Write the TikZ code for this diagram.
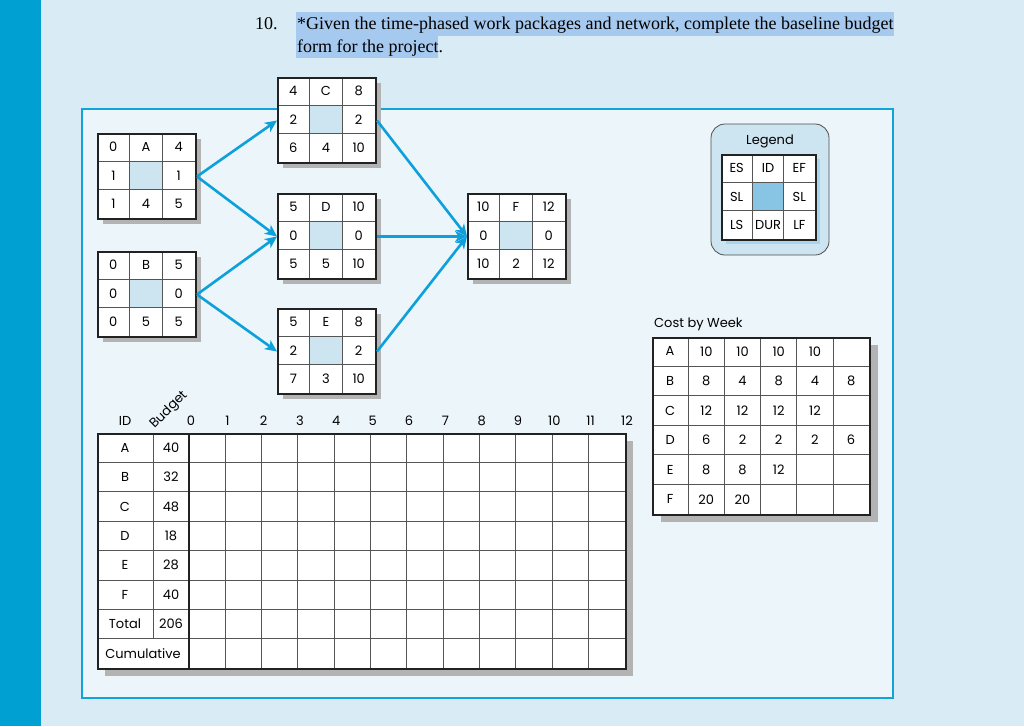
\documentclass[tikz,border=0pt]{standalone}
\usepackage{fontspec}
\setmainfont{Liberation Serif}
\newfontfamily\labfont{Poppins}
\usetikzlibrary{arrows.meta}
\definecolor{barblue}{HTML}{00A0D2}
\definecolor{bgblue}{HTML}{D9EBF4}
\definecolor{panelfill}{HTML}{EBF5FA}
\definecolor{panelline}{HTML}{12A3DA}
\definecolor{arrowblue}{HTML}{0DA0DB}
\definecolor{cellblue}{HTML}{CDE5F1}
\definecolor{legendblue}{HTML}{88C5E4}
\definecolor{legendshadow}{HTML}{A9D4EC}
\definecolor{hilite}{HTML}{A6C9EF}
\definecolor{shadowgray}{HTML}{B3B3B3}
\definecolor{gridgray}{HTML}{555555}
\definecolor{edgedark}{HTML}{222222}
\tikzset{
  lab/.style={font=\labfont\fontsize{13}{15}\selectfont, inner sep=0pt, text=black},
  conn/.style={draw=arrowblue, line width=2.6pt, -{Stealth[length=12pt,width=11pt,inset=3.5pt]}},
  outerbox/.style={draw=edgedark, line width=2pt, inner sep=0pt, anchor=north west},
  innerline/.style={draw=gridgray, line width=1pt},
  titletext/.style={font=\fontsize{18}{21}\selectfont, inner sep=0pt, text=black}
}
\newcommand{\actbox}[9]{%
  \begin{scope}[shift={(#2)}]
    \fill[shadowgray] (6,6) rectangle (104,91);
    \fill[white] (0,0) rectangle (98,85);
    \fill[cellblue] (32.67,28.33) rectangle (65.33,56.67);
    \draw[innerline] (32.67,0) -- (32.67,85) (65.33,0) -- (65.33,85)
      (0,28.33) -- (98,28.33) (0,56.67) -- (98,56.67);
    \node[lab] (#1-es) at (16.33,14.17) {#3};
    \node[lab] (#1-id) at (49,14.17) {#4};
    \node[lab] (#1-ef) at (81.67,14.17) {#5};
    \node[lab] (#1-sl) at (16.33,42.5) {#6};
    \node[lab] (#1-sr) at (81.67,42.5) {#6};
    \node[lab] (#1-ls) at (16.33,70.83) {#7};
    \node[lab] (#1-du) at (49,70.83) {#8};
    \node[lab] (#1-lf) at (81.67,70.83) {#9};
  \end{scope}
  \node[outerbox, minimum width=98pt, minimum height=85pt] (#1) at (#2) {};
}
\begin{document}
\begin{tikzpicture}[x=1pt,y=-1pt]
\useasboundingbox (0,0) rectangle (1024,726);
\fill[bgblue] (0,0) rectangle (1024,726);
\fill[barblue] (0,0) rectangle (41,726);

% title
\fill[hilite] (296,12) rectangle (894,36);
\fill[hilite] (296,36) rectangle (438,58);
\node[titletext, anchor=base west] (qnum) at (255,29) {10.};
\node[titletext, anchor=base west] (qline1) at (297,29) {*Given the time-phased work packages and network, complete the baseline budget};
\node[titletext, anchor=base west] (qline2) at (297,52) {form for the project.};

% panel
\draw[panelline, fill=panelfill, line width=2pt] (82,109) rectangle (893,698);

% activity boxes
\actbox{A}{97,133}{0}{A}{4}{1}{1}{4}{5}
\actbox{B}{97,251}{0}{B}{5}{0}{0}{5}{5}
\actbox{C}{277,77}{4}{C}{8}{2}{6}{4}{10}
\actbox{D}{277,193}{5}{D}{10}{0}{5}{5}{10}
\actbox{E}{277,308}{5}{E}{8}{2}{7}{3}{10}
\actbox{F}{467,193}{10}{F}{12}{0}{10}{2}{12}

\draw[conn] (A.east) -- (C.west);
\draw[conn] (A.east) -- (D.west);
\draw[conn] (B.east) -- (D.west);
\draw[conn] (B.east) -- (E.west);
\draw[conn] (C.east) -- (F.west);
\draw[conn] (D.east) -- (F.west);
\draw[conn] (E.east) -- (F.west);

% legend
\draw[edgedark!80, fill=cellblue, rounded corners=14pt, line width=0.8pt] (711,124) rectangle (829,255);
\node[lab] (legtitle) at (770,141) {Legend};
\begin{scope}[shift={(721,154)}]
  \fill[legendshadow] (5,5) rectangle (99,90);
  \fill[white] (0,0) rectangle (94,85);
  \fill[legendblue] (31.33,28.33) rectangle (62.67,56.67);
  \draw[innerline] (31.33,0) -- (31.33,85) (62.67,0) -- (62.67,85)
    (0,28.33) -- (94,28.33) (0,56.67) -- (94,56.67);
  \node[lab] (lg-es) at (15.67,14.17) {ES};
  \node[lab] (lg-id) at (47,14.17) {ID};
  \node[lab] (lg-ef) at (78.33,14.17) {EF};
  \node[lab] (lg-sl) at (15.67,42.5) {SL};
  \node[lab] (lg-sr) at (78.33,42.5) {SL};
  \node[lab] (lg-ls) at (15.67,70.83) {LS};
  \node[lab] (lg-du) at (47,70.83) {DUR};
  \node[lab] (lg-lf) at (78.33,70.83) {LF};
\end{scope}
\node[outerbox, minimum width=94pt, minimum height=85pt, line width=1.6pt] (legend) at (721,154) {};

% cost by week
\node[lab, anchor=west] (costtitle) at (654,324) {Cost by Week};
\fill[shadowgray] (661,345) rectangle (878,522);
\fill[white] (652,336.7) rectangle (869.2,514);
\foreach \k in {1,...,5} \draw[innerline] (652+36.2*\k,336.7) -- (652+36.2*\k,514);
\foreach \k in {1,...,5} \draw[innerline] (652,336.7+29.55*\k) -- (869.2,336.7+29.55*\k);
\foreach \row [count=\i] in {{A,10,10,10,10,{}},{B,8,4,8,4,8},{C,12,12,12,12,{}},{D,6,2,2,2,6},{E,8,8,12,{},{}},{F,20,20,{},{},{}}}{
  \foreach \v [count=\j] in \row {
    \node[lab] (cw-\i-\j) at (652+36.2*\j-18.1,336.7+29.55*\i-14.78) {\v};
  }
}
\node[outerbox, minimum width=217.2pt, minimum height=177.3pt] (costtable) at (652,336.7) {};

% budget form
\node[lab] (hdr-id) at (125,421) {ID};
\node[lab, rotate=45] (hdr-budget) at (169,410) {Budget};
\foreach \k in {0,...,12} \node[lab] (wk-\k) at (191+36.33*\k,421) {\k};
\fill[shadowgray] (105,441) rectangle (633,676);
\fill[white] (97,433) rectangle (625,668.2);
\foreach \k in {1,...,11} \draw[innerline] (189+36.33*\k,433) -- (189+36.33*\k,668.2);
\foreach \k in {1,...,7} \draw[innerline] (97,433+29.4*\k) -- (625,433+29.4*\k);
\draw[innerline] (153,433) -- (153,638.8);
\draw[edgedark, line width=1.6pt] (189,433) -- (189,668.2);
\foreach \id/\bud [count=\i] in {A/40,B/32,C/48,D/18,E/28,F/40,Total/206}{
  \node[lab] (bid-\i) at (125,433+29.4*\i-14.7) {\id};
  \node[lab] (bbud-\i) at (171,433+29.4*\i-14.7) {\bud};
}
\node[lab] (bcum) at (143,653.5) {Cumulative};
\node[outerbox, minimum width=528pt, minimum height=235.2pt] (budget) at (97,433) {};
\end{tikzpicture}
\end{document}
